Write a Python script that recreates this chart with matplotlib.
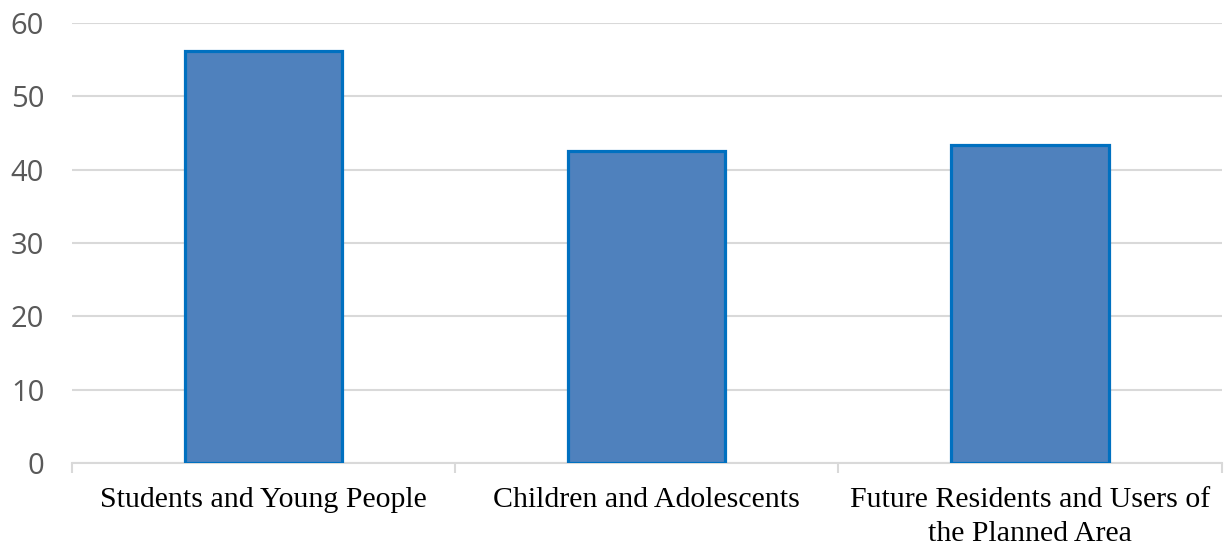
import matplotlib.pyplot as plt
import numpy as np

categories = ["Students and Young People", "Children and Adolescents",
              "Future Residents and Users of\nthe Planned Area"]
values = [56.2, 42.5, 43.3]
y_ticks = [0, 10, 20, 30, 40, 50, 60]

fig = plt.figure(figsize=(12.24, 5.45), dpi=100)
ax = fig.add_axes([0.0588, 0.150, 0.9392, 0.808])

x = np.arange(len(categories))
ax.bar(x, values, width=0.41, color="#4F81BD", edgecolor="#0070C0",
       linewidth=2.3, zorder=3)

ax.set_xlim(-0.5, len(categories) - 0.5)
ax.set_ylim(0, 60)
ax.set_yticks(y_ticks)
ax.yaxis.grid(True, color="#D9D9D9", linewidth=1.5, zorder=0)

for side in ["left", "right", "top"]:
    ax.spines[side].set_visible(False)
ax.spines["bottom"].set_color("#D9D9D9")
ax.spines["bottom"].set_linewidth(1.5)

ax.set_xticks(x)
ax.set_xticklabels(categories, fontfamily="Liberation Serif", fontsize=21.5,
                   color="black", linespacing=1.4)
ax.tick_params(axis="x", which="major", length=0, pad=17)
ax.set_xticks(np.arange(-0.5, len(categories)), minor=True)
ax.tick_params(axis="x", which="minor", length=7, width=1.5, color="#D9D9D9")

ax.tick_params(axis="y", length=0, pad=20)
for lbl in ax.get_yticklabels():
    lbl.set_fontfamily("Open Sans")
    lbl.set_fontsize(21)
    lbl.set_color("#595959")

fig.savefig("out.png", dpi=100)
